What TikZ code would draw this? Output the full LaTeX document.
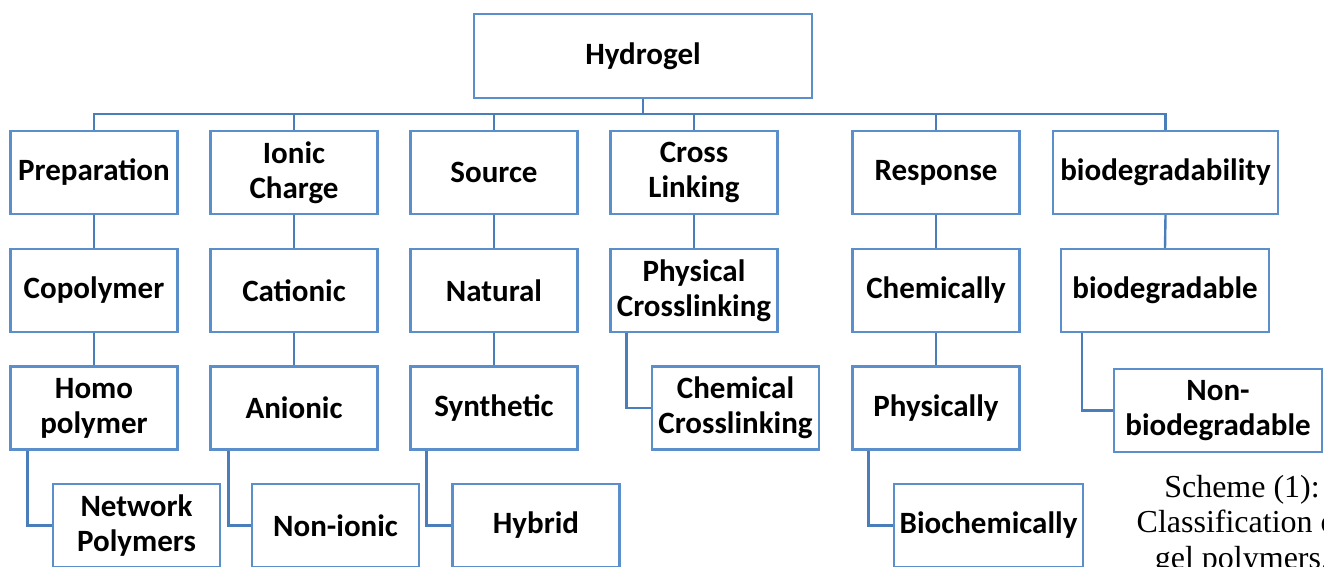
\documentclass[tikz,border=0pt]{standalone}
\usepackage{fontspec}
\setmainfont{Liberation Serif}
\newfontfamily\calibfont{Carlito}
\definecolor{boxblue}{HTML}{5B8FCB}
\definecolor{lineblue}{HTML}{4A7EBB}
\begin{document}
\begin{tikzpicture}[x=1pt, y=-1pt,
    hbox/.style={draw=boxblue, line width=2.2pt, fill=white, align=center,
      inner sep=0pt, minimum width=167pt, minimum height=83pt,
      font=\calibfont\bfseries\fontsize{31}{35}\selectfont},
    link/.style={draw=lineblue, line width=2.4pt}]
    \useasboundingbox (0,0) rectangle (1324,567);
    \clip (0,0) rectangle (1324,567);

    % root
    \node[hbox, minimum width=338pt, minimum height=84pt] (gel) at (643,56) {Hydrogel};

    % first row
    \node[hbox] (prep) at (94,172.5) {Preparation};
    \node[hbox] (ionic) at (294,172.5) {Ionic\\Charge};
    \node[hbox] (source) at (494,172.5) {Source};
    \node[hbox] (cross) at (694,172.5) {Cross\\Linking};
    \node[hbox] (resp) at (936,172.5) {Response};
    \node[hbox, minimum width=225pt] (degr) at (1165.5,172.5) {biodegradability};

    % second row
    \node[hbox] (copoly) at (94,290.5) {Copolymer};
    \node[hbox] (cation) at (294,290.5) {Cationic};
    \node[hbox] (natural) at (494,290.5) {Natural};
    \node[hbox] (physx) at (694,290.5) {Physical\\Crosslinking};
    \node[hbox] (chemly) at (936,290.5) {Chemically};
    \node[hbox, minimum width=208pt] (biodeg) at (1165,290.5) {biodegradable};

    % third row
    \node[hbox] (homo) at (94,408) {Homo\\polymer};
    \node[hbox] (anion) at (294,408) {Anionic};
    \node[hbox] (synth) at (494,408) {Synthetic};
    \node[hbox] (chemx) at (735.5,408) {Chemical\\Crosslinking};
    \node[hbox] (physly) at (936,408) {Physically};
    \node[hbox, minimum width=208pt] (nonbio) at (1218,410.5) {Non-\\biodegradable};

    % fourth row
    \node[hbox] (network) at (136.5,525.5) {Network\\Polymers};
    \node[hbox] (nonion) at (335.5,525.5) {Non-ionic};
    \node[hbox] (hybrid) at (536,525.5) {Hybrid};
    \node[hbox, minimum width=189pt] (biochem) at (988.5,525.5) {Biochemically};

    % bus from the root
    \foreach \n in {prep,ionic,source,cross,resp,degr}
        \draw[link] (gel.south) -- ++(0,15) -| (\n.north);

    % straight links
    \draw[link] (prep.south) -- (copoly.north);
    \draw[link] (copoly.south) -- (homo.north);
    \draw[link] (ionic.south) -- (cation.north);
    \draw[link] (cation.south) -- (anion.north);
    \draw[link] (source.south) -- (natural.north);
    \draw[link] (natural.south) -- (synth.north);
    \draw[link] (cross.south) -- (physx.north);
    \draw[link] (resp.south) -- (chemly.north);
    \draw[link] (chemly.south) -- (physly.north);
    \draw[link] (degr.south) -- (biodeg.north);

    % elbow links
    \draw[link] ([xshift=18pt]homo.south west) |- (network.west);
    \draw[link] ([xshift=19pt]anion.south west) |- (nonion.west);
    \draw[link] ([xshift=17pt]synth.south west) |- (hybrid.west);
    \draw[link] ([xshift=17pt]physx.south west) |- (chemx.west);
    \draw[link] ([xshift=17pt]physly.south west) |- (biochem.west);
    \draw[link] ([xshift=22pt]biodeg.south west) |- (nonbio.west);

    % caption
    \node[align=center, inner sep=0pt, anchor=north,
        font=\fontsize{32}{35.5}\selectfont] (caption) at (1242,475)
        {Scheme (1):\\Classification of\\gel polymers.};
\end{tikzpicture}
\end{document}
